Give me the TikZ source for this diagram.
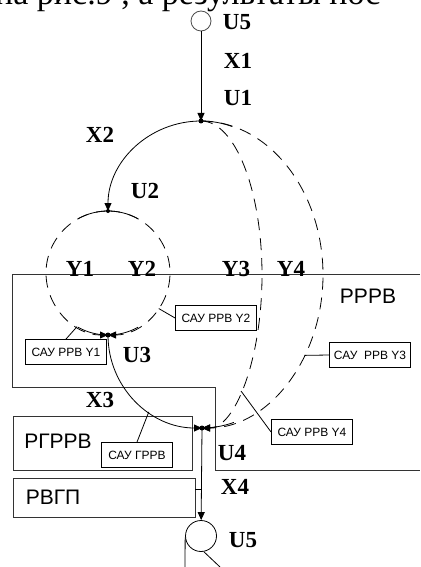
\documentclass[tikz,border=0pt]{standalone}
\usepackage{fontspec}
\setmainfont{Liberation Serif}
\setsansfont{Liberation Sans}
\usetikzlibrary{arrows.meta}

\begin{document}
\begin{tikzpicture}[x=1pt, y=-1pt,
        >={Triangle[length=8pt,width=7pt]},
        lbl/.style={font=\fontsize{23}{23}\selectfont\bfseries, inner sep=0pt},
        zone/.style={font=\sffamily\fontsize{21}{21}\selectfont, inner sep=0pt},
        sau/.style={draw, line width=0.9pt, font=\sffamily\fontsize{12}{12}\selectfont,
            minimum width=81pt, minimum height=25pt, inner sep=0pt},
        crv/.style={line width=0.8pt},
        dsh/.style={line width=0.8pt, dash pattern=on 12pt off 8pt},
        wall/.style={line width=1pt, draw=black!80}]
        \useasboundingbox (0,0) rectangle (420,567);

        % --- cut line of text at the top ---
        \begin{scope}
            \clip (0,0) rectangle (420,567);
            \node[anchor=base west, inner sep=0pt, font=\fontsize{34}{34}\selectfont] (head) at (-5,5) {на рис.9 , а результаты пос};
        \end{scope}

        % --- zones ---
        \draw[wall] (420,274) -- (12,274) -- (12,387) -- (215,387) -- (215,470) -- (420,470);
        \draw[wall] (13,416) rectangle (192,470);
        \draw[wall] (13,478) rectangle (195,517);
        \node[zone] (rrrv)  at (368,296) {РРРВ};
        \node[zone] (rgrrv) at (58,441)  {РГРРВ};
        \node[zone] (rvgp)  at (53,497)  {РВГП};

        % --- points of the graph ---
        \node[draw=black!70, circle, minimum size=20pt, inner sep=0pt, line width=0.8pt] (U5top) at (201,21) {};
        \coordinate (U1)  at (201,121);
        \coordinate (U2)  at (108,211);
        \coordinate (c12) at (108,273);
        \coordinate (U3)  at (108,335);
        \coordinate (U4)  at (202,428);
        \node[draw, circle, minimum size=31pt, inner sep=0pt, line width=0.8pt] (U5bot) at (201,536) {};

        % --- solid arcs X ---
        \draw[crv, ->] (U5top) -- (U1);
        \draw[crv, ->] (U1) .. controls (150,121) and (108,161) .. (U2);
        \draw[crv] (U1) arc[start angle=270, end angle=290, radius=91];
        \draw[crv, ->] (U3) .. controls (108,387) and (150,428) .. (U4) coordinate[pos=0.62] (grrvEnd);
        \draw[crv] (U4) arc[start angle=90, end angle=70, radius=93];

        % --- dashed circle Y1, Y2 ---
        \draw[dsh, ->] (U2) .. controls (74,211) and (46,239) .. (46,273) .. controls (46,307) and (74,335) .. (U3);
        \draw[dsh, ->] (U2) .. controls (142,211) and (170,239) .. (170,273) .. controls (170,307) and (142,335) .. (U3);
        \draw[crv] ([shift={(241:62)}]c12) arc[start angle=241, end angle=299, radius=62];
        \draw[crv] ([shift={(61:62)}]c12) arc[start angle=61, end angle=119, radius=62];
        \coordinate (y1mark) at ([shift={(120:62)}]c12);
        \coordinate (y2mark) at ([shift={(35:62)}]c12);

        % --- dashed arcs Y3, Y4 ---
        \draw[dsh, ->] (U1) .. controls (235,121) and (262,190) .. (262,275)
            .. controls (262,359) and (235,428) .. (U4) coordinate[pos=0.55] (y3mark);
        \draw[dsh, ->] (U1) .. controls (268,121) and (323,190) .. (323,275)
            .. controls (323,359) and (268,428) .. (U4) coordinate[pos=0.35] (y4mark);

        % --- X4 and the lower U5 ---
        \draw[crv, ->] (U4) -- (U5bot);
        \coordinate (rvgpTap) at (195,489);
        \draw[crv] (rvgpTap) -- (rvgpTap -| U4);
        \coordinate (outA) at (185,567);
        \coordinate (outB) at (220,567);
        \draw[crv] (U5bot.185) -- (outA);
        \draw[crv] (U5bot.-80) -- (outB);

        \fill (U1) circle (2.5pt);
        \fill (U2) circle (2pt);
        \fill (U3) circle (2.5pt);
        \fill (U4) circle (2.5pt);

        % --- labels ---
        \node[lbl] (lU5a) at (237,22)  {U5};
        \node[lbl] (lX1)  at (238,61)  {X1};
        \node[lbl] (lU1)  at (238,98)  {U1};
        \node[lbl] (lX2)  at (100,135) {X2};
        \node[lbl] (lU2)  at (145,191) {U2};
        \node[lbl] (lY1)  at (80,269)  {Y1};
        \node[lbl] (lY2)  at (142,269) {Y2};
        \node[lbl] (lY3)  at (236,269) {Y3};
        \node[lbl] (lY4)  at (291,269) {Y4};
        \node[lbl] (lU3)  at (137,355) {U3};
        \node[lbl] (lX3)  at (100,400) {X3};
        \node[lbl] (lU4)  at (232,453) {U4};
        \node[lbl] (lX4)  at (235,487) {X4};
        \node[lbl] (lU5b) at (243,540) {U5};

        % --- control boxes ---
        \node[sau] (sau1) at (66,352)  {САУ РРВ Y1};
        \node[sau] (sau2) at (216,318) {САУ РРВ Y2};
        \node[sau] (sau3) at (370,355) {САУ\ \ РРВ Y3};
        \node[sau] (sau4) at (312,432) {САУ РРВ Y4};
        \node[sau, minimum width=71pt] (sau5) at (137,455) {САУ ГРРВ};
        \draw[crv] (sau1.north) -- (y1mark);
        \draw[crv] (sau2.west) -- (y2mark);
        \draw[crv] (sau3.west) -- (y4mark);
        \draw[crv] (sau4.west) -- (y3mark);
        \draw[crv] (sau5.north) -- (grrvEnd);
    \end{tikzpicture}
\end{document}
